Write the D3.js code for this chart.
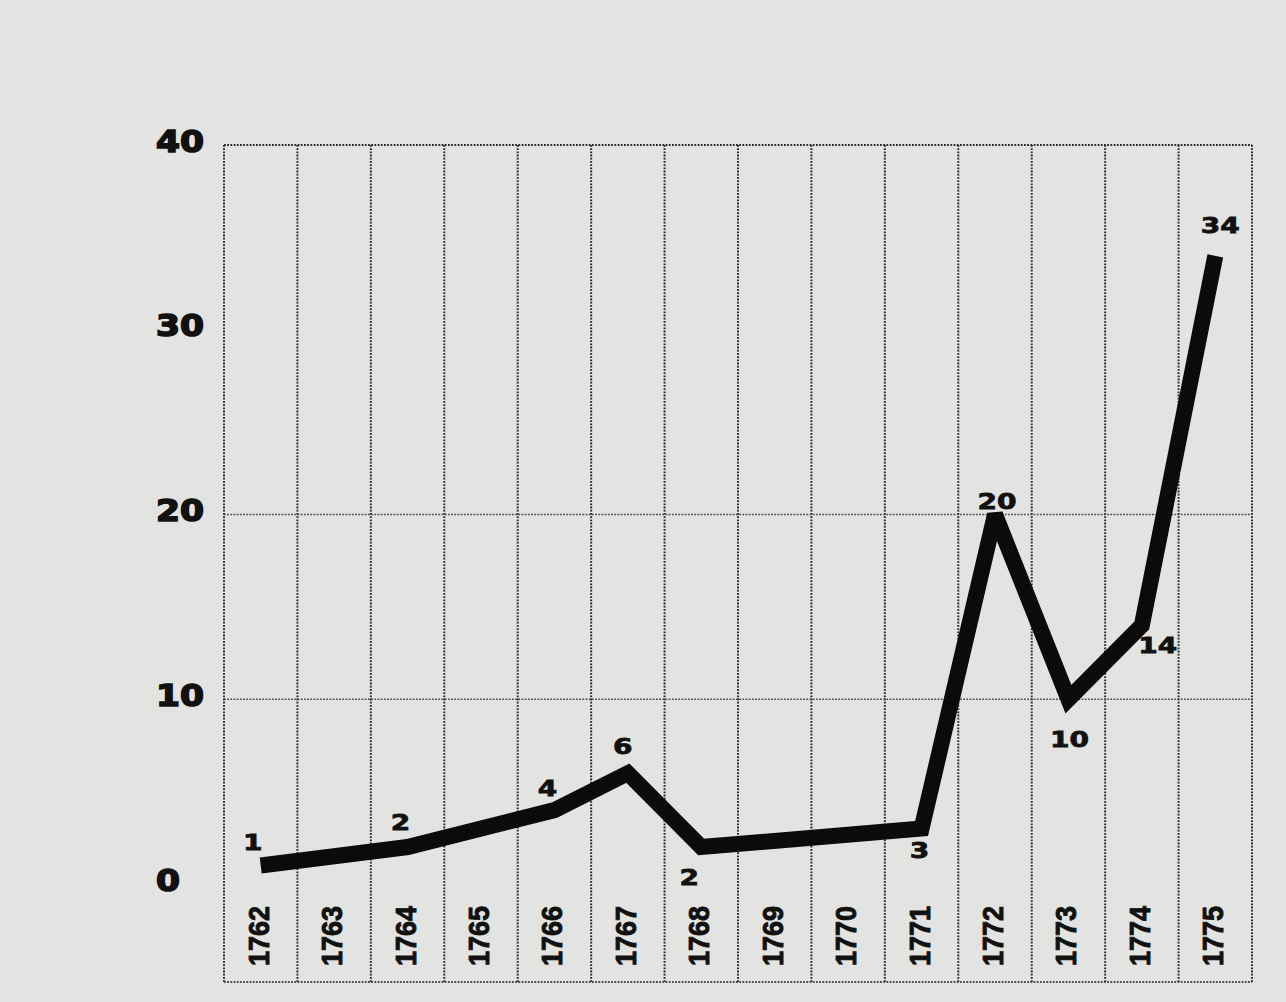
<!DOCTYPE html>
<html>
<head>
<meta charset="utf-8">
<script src="https://cdn.jsdelivr.net/npm/d3@7"></script>
<style>
  html, body { margin: 0; padding: 0; background: #e3e4e2; }
  svg { display: block; }
</style>
</head>
<body>
<svg id="chart" width="1286" height="1002"></svg>
<script>
// ---- data ----
const years = ["1762","1763","1764","1765","1766","1767","1768","1769","1770","1771","1772","1773","1774","1775"];
const counts = [1, null, 2, null, 4, 6, 2, null, null, 3, 20, 10, 14, 34];
const yTicks = [0, 10, 20, 30, 40];
const gridValues = [10, 20, 40];

// label placement relative to its point (kept out of the data arrays)
const labelPlacement = {
  "1762": [-8, -23], "1764": [-7, -25], "1766": [-7, -22], "1767": [-5, -27],
  "1768": [-12, 30], "1771": [-2, 22], "1772": [2, -13], "1773": [1, 40],
  "1774": [16, 20], "1775": [5, -30]
};

const svg = d3.select("#chart");
const W = 1286, H = 1002;

svg.append("rect").attr("width", W).attr("height", H).attr("fill", "#e3e4e2");

const x = d3.scaleBand().domain(years).range([224, 1252]).paddingInner(0).paddingOuter(0);
const y = d3.scaleLinear().domain([0, 40]).range([884, 145]);
const bottomY = 982;

const grid = svg.append("g").attr("stroke", "#2a2a2a").attr("stroke-dasharray", "1.8,1.4").attr("fill", "none");

// vertical column separators
const vx = years.map(yr => x(yr)).concat([x(years[years.length - 1]) + x.bandwidth()]);
grid.selectAll("line.v").data(vx).join("line")
  .attr("class", "v")
  .attr("x1", d => d).attr("x2", d => d)
  .attr("y1", y(40)).attr("y2", bottomY)
  .attr("stroke-width", 2);

// horizontal grid lines
grid.selectAll("line.h").data(gridValues).join("line")
  .attr("class", "h")
  .attr("x1", x.range()[0]).attr("x2", x.range()[1])
  .attr("y1", d => y(d)).attr("y2", d => y(d))
  .attr("stroke-width", d => d === 40 ? 2 : 1.6)
  .attr("stroke", d => d === 40 ? "#2a2a2a" : "#4a4a4a");

// bottom border
grid.append("line")
  .attr("x1", x.range()[0]).attr("x2", x.range()[1])
  .attr("y1", bottomY).attr("y2", bottomY)
  .attr("stroke-width", 1.8).attr("stroke", "#4a4a4a");

// y axis labels
svg.append("g").selectAll("text").data(yTicks).join("text")
  .attr("x", 156)
  .attr("y", d => y(d) - 4)
  .attr("dominant-baseline", "central")
  .attr("font-family", "DejaVu Sans")
  .attr("font-weight", "bold")
  .attr("font-size", 30)
  .attr("fill", "#111")
  .attr("stroke", "#111")
  .attr("stroke-width", 1.6)
  .attr("textLength", d => String(d).length * 24)
  .attr("lengthAdjust", "spacingAndGlyphs")
  .text(d => d);

// year labels (rotated)
svg.append("g").selectAll("text").data(years).join("text")
  .attr("transform", d => `translate(${x(d) + x.bandwidth() / 2 - 2},${936}) rotate(-90)`)
  .attr("text-anchor", "middle")
  .attr("dominant-baseline", "central")
  .attr("font-family", "Liberation Sans, Arial, sans-serif")
  .attr("font-weight", "bold")
  .attr("font-size", 29)
  .attr("fill", "#111")
  .attr("stroke", "#111")
  .attr("stroke-width", 0.9)
  .attr("textLength", 60)
  .attr("lengthAdjust", "spacingAndGlyphs")
  .text(d => d);

// line
const pts = years.map((yr, i) => ({ year: yr, v: counts[i] })).filter(d => d.v !== null);
const line = d3.line()
  .x(d => x(d.year) + x.bandwidth() / 2)
  .y(d => y(d.v));

svg.append("path")
  .datum(pts)
  .attr("d", line)
  .attr("fill", "none")
  .attr("stroke", "#0c0a0a")
  .attr("stroke-width", 16)
  .attr("stroke-linejoin", "miter")
  .attr("stroke-miterlimit", 3)
  .attr("stroke-linecap", "butt");

// value labels
svg.append("g").selectAll("text").data(pts).join("text")
  .attr("x", d => x(d.year) + x.bandwidth() / 2 + labelPlacement[d.year][0])
  .attr("y", d => y(d.v) + labelPlacement[d.year][1])
  .attr("text-anchor", "middle")
  .attr("dominant-baseline", "central")
  .attr("font-family", "DejaVu Sans")
  .attr("font-weight", "bold")
  .attr("font-size", 22)
  .attr("fill", "#111")
  .attr("stroke", "#111")
  .attr("stroke-width", 0.8)
  .attr("textLength", d => String(d.v).length * 19.5)
  .attr("lengthAdjust", "spacingAndGlyphs")
  .text(d => d.v);
</script>
</body>
</html>
